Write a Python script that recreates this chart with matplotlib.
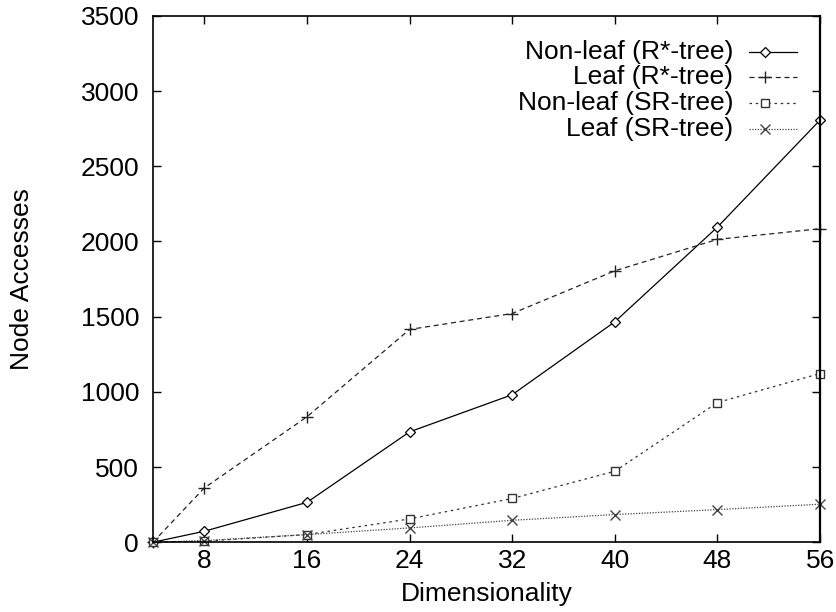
import matplotlib
matplotlib.use("Agg")
import matplotlib.pyplot as plt

plt.rcParams['font.family'] = ['Liberation Sans', 'DejaVu Sans']

# data
dims = [4, 8, 16, 24, 32, 40, 48, 56]
nonleaf_rstar = [0, 73, 265, 734, 981, 1466, 2096, 2808]
leaf_rstar = [0, 361, 834, 1415, 1521, 1805, 2014, 2085]
nonleaf_sr = [0, 7, 51, 155, 291, 472, 929, 1122]
leaf_sr = [0, 11, 51, 95, 146, 184, 217, 253]

labels = ['Non-leaf (R*-tree)', 'Leaf (R*-tree)', 'Non-leaf (SR-tree)', 'Leaf (SR-tree)']
xticks = [8, 16, 24, 32, 40, 48, 56]
yticks = [0, 500, 1000, 1500, 2000, 2500, 3000, 3500]

fig = plt.figure(figsize=(8.36, 6.12), dpi=100)
ax = fig.add_axes([0.183, 0.114, 0.798, 0.860])

styles = [
    dict(color='black', linestyle='-', marker='D', ms=5, mfc='white', mew=0.9),
    dict(color='#222222', linestyle=(0, (4, 3)), marker='+', ms=8, mew=1.0),
    dict(color='#333333', linestyle=(0, (2, 3)), marker='s', ms=6, mfc='white', mew=1.0),
    dict(color='#444444', linestyle=(0, (1, 1.2)), marker='x', ms=7, mew=1.0),
]
series = [nonleaf_rstar, leaf_rstar, nonleaf_sr, leaf_sr]

for ys, st in zip(series, styles):
    ax.plot(dims, ys, lw=0.9, clip_on=False, **st)

# gnuplot style key: text on the left, sample on the right
rows = [0.932, 0.883, 0.835, 0.786]
for lab, st, yy in zip(labels, styles, rows):
    ax.text(0.87, yy, lab, transform=ax.transAxes, ha='right', va='center', fontsize=19)
    ax.plot([0.894, 0.966], [yy, yy], transform=ax.transAxes, lw=0.9,
            color=st['color'], linestyle=st['linestyle'])
    ax.plot([0.918], [yy], transform=ax.transAxes, linestyle='none',
            **{k: v for k, v in st.items() if k != 'linestyle'})

ax.set_xlim(4, 56)
ax.set_ylim(0, 3500)
ax.set_xticks(xticks)
ax.set_yticks(yticks)
ax.tick_params(direction='in', length=6, width=1.0, top=True, right=True, labelsize=19)
ax.tick_params(axis='x', pad=5)
ax.tick_params(axis='y', pad=10)
for sp in ax.spines.values():
    sp.set_linewidth(1.2)
ax.spines['right'].set_linewidth(1.6)

ax.set_xlabel('Dimensionality', fontsize=19)
ax.set_ylabel('Node Accesses', fontsize=19)
ax.xaxis.set_label_coords(0.5, -0.076)
ax.yaxis.set_label_coords(-0.178, 0.5)

fig.savefig('out.png', dpi=100)
